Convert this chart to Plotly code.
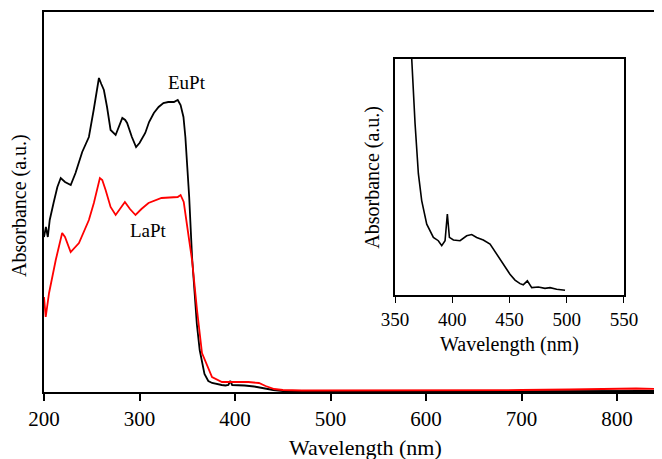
import plotly.graph_objects as go

# EuPt spectrum (main panel)
eu_wl = [200, 202, 204, 206, 210, 214, 217.5, 222, 228, 233, 240, 247, 252, 255, 257.5, 260,
         262.7, 266, 269.7, 275, 279, 282, 285, 287, 292, 296.4, 300, 306, 310, 315, 320, 325,
         330, 336, 340, 343, 346, 348, 350, 352, 355, 358, 360, 363, 365, 368, 372, 376, 386,
         390, 393, 395, 397, 400, 410, 420, 428, 440, 450, 470, 500, 600, 700, 800, 850]
eu_abs = [1.55, 1.65, 1.55, 1.72, 1.89, 2.05, 2.14, 2.10, 2.07, 2.19, 2.40, 2.55, 2.82, 3.00, 3.14, 3.08,
          3.02, 2.85, 2.62, 2.57, 2.68, 2.74, 2.72, 2.69, 2.55, 2.45, 2.49, 2.59, 2.70, 2.79, 2.85, 2.89,
          2.90, 2.90, 2.92, 2.87, 2.75, 2.55, 2.25, 1.95, 1.35, 0.95, 0.68, 0.42, 0.32, 0.18, 0.11, 0.09, 0.07,
          0.065, 0.07, 0.11, 0.07, 0.07, 0.065, 0.055, 0.04, 0.02, 0.01, 0.006, 0.006, 0.007, 0.008, 0.01, 0.01]

# LaPt spectrum (main panel)
la_wl = [200, 201.8, 205.3, 212.3, 219, 222, 227.9, 236.6, 247, 252.2, 258.5, 261, 264.5, 269.7,
         275, 281, 284.7, 290, 295.8, 302, 309.4, 323, 340, 343, 346.3, 351.5, 355, 360.2, 365.4,
         375.9, 386.3, 400, 414, 425, 432, 441, 450, 470, 500, 600, 700, 750, 800, 820, 850]
la_abs = [0.95, 0.75, 0.99, 1.32, 1.59, 1.55, 1.40, 1.49, 1.72, 1.89, 2.14, 2.12, 2.02, 1.85,
          1.77, 1.85, 1.90, 1.83, 1.77, 1.83, 1.89, 1.94, 1.95, 1.97, 1.90, 1.55, 1.32, 0.82, 0.39,
          0.15, 0.10, 0.10, 0.10, 0.09, 0.06, 0.03, 0.02, 0.015, 0.015, 0.015, 0.02, 0.025, 0.03, 0.035, 0.03]

# EuPt enlarged (inset)
ins_wl = [363, 364.6, 367.5, 370.4, 373.3, 377.7, 383.5, 387.8, 390.8, 393.7, 395.7, 397.5, 401,
          406.8, 412.6, 417, 421.3, 427.1, 433, 438.8, 444.6, 450.4, 454.8, 459.2, 462, 465.6,
          469.4, 475.2, 481, 485.4, 491.2, 498.5]
ins_abs = [1.2, 1.0, 0.727, 0.514, 0.40, 0.30, 0.244, 0.230, 0.209, 0.230, 0.343, 0.244, 0.233,
           0.230, 0.251, 0.256, 0.244, 0.233, 0.216, 0.173, 0.131, 0.088, 0.063, 0.048, 0.043, 0.060,
           0.031, 0.034, 0.028, 0.031, 0.024, 0.020]

FONT = "Liberation Serif"

fig = go.Figure()
fig.add_trace(go.Scatter(x=eu_wl, y=eu_abs, mode="lines", line=dict(color="black", width=1.8)))
fig.add_trace(go.Scatter(x=la_wl, y=la_abs, mode="lines", line=dict(color="red", width=1.8)))
fig.add_trace(go.Scatter(x=ins_wl, y=ins_abs, mode="lines", line=dict(color="black", width=1.6),
                         xaxis="x2", yaxis="y2"))

fig.add_annotation(x=350, y=3.10, text="EuPt", showarrow=False, font=dict(family=FONT, size=19))
fig.add_annotation(x=309, y=1.62, text="LaPt", showarrow=False, font=dict(family=FONT, size=19))

# axis titles
titles = [
    (0.521, -0.147, "Wavelength (nm)", 0, 22),
    (-0.0405, 0.492, "Absorbance (a.u.)", -90, 20),
    (0.753, 0.1237, "Wavelength (nm)", 0, 20),
    (0.532, 0.566, "Absorbance (a.u.)", -90, 20),
]
for tx, ty, txt, ang, sz in titles:
    fig.add_annotation(xref="paper", yref="paper", x=tx, y=ty, text=txt, textangle=ang,
                       xanchor="center", yanchor="middle", showarrow=False,
                       font=dict(family=FONT, size=sz))

# page body adds an 8px offset, so the figure is 8px smaller and margins shifted
fig.update_layout(
    width=654, height=451,
    margin=dict(l=36, r=0, t=4, b=67),
    paper_bgcolor="white", plot_bgcolor="white",
    showlegend=False,
    font=dict(family=FONT, color="black", size=21),
    xaxis=dict(range=[200, 847], tickvals=[200, 300, 400, 500, 600, 700, 800],
               showgrid=False, zeroline=False, showline=True, mirror=True,
               linecolor="black", linewidth=2, automargin=False,
               ticks="outside", ticklen=7, tickcolor="black", tickwidth=1.5,
               tickfont=dict(family=FONT, size=21)),
    yaxis=dict(range=[0, 3.80], showgrid=False, zeroline=False, showline=True,
               linecolor="black", linewidth=2, showticklabels=False, ticks="",
               automargin=False),
    xaxis2=dict(domain=[0.568, 0.9385], anchor="y2", range=[350, 550],
                tickvals=[350, 400, 450, 500, 550], showgrid=False, zeroline=False,
                showline=True, mirror=True, linecolor="black", linewidth=1.5,
                ticks="outside", ticklen=6, tickcolor="black", tickwidth=1.3,
                automargin=False, tickfont=dict(family=FONT, size=19)),
    yaxis2=dict(domain=[0.2553, 0.8763], anchor="x2", range=[0, 1], showgrid=False,
                zeroline=False, showline=True, mirror=True, linecolor="black", linewidth=1.5,
                showticklabels=False, ticks="", automargin=False),
)

fig.write_html("out.html")
